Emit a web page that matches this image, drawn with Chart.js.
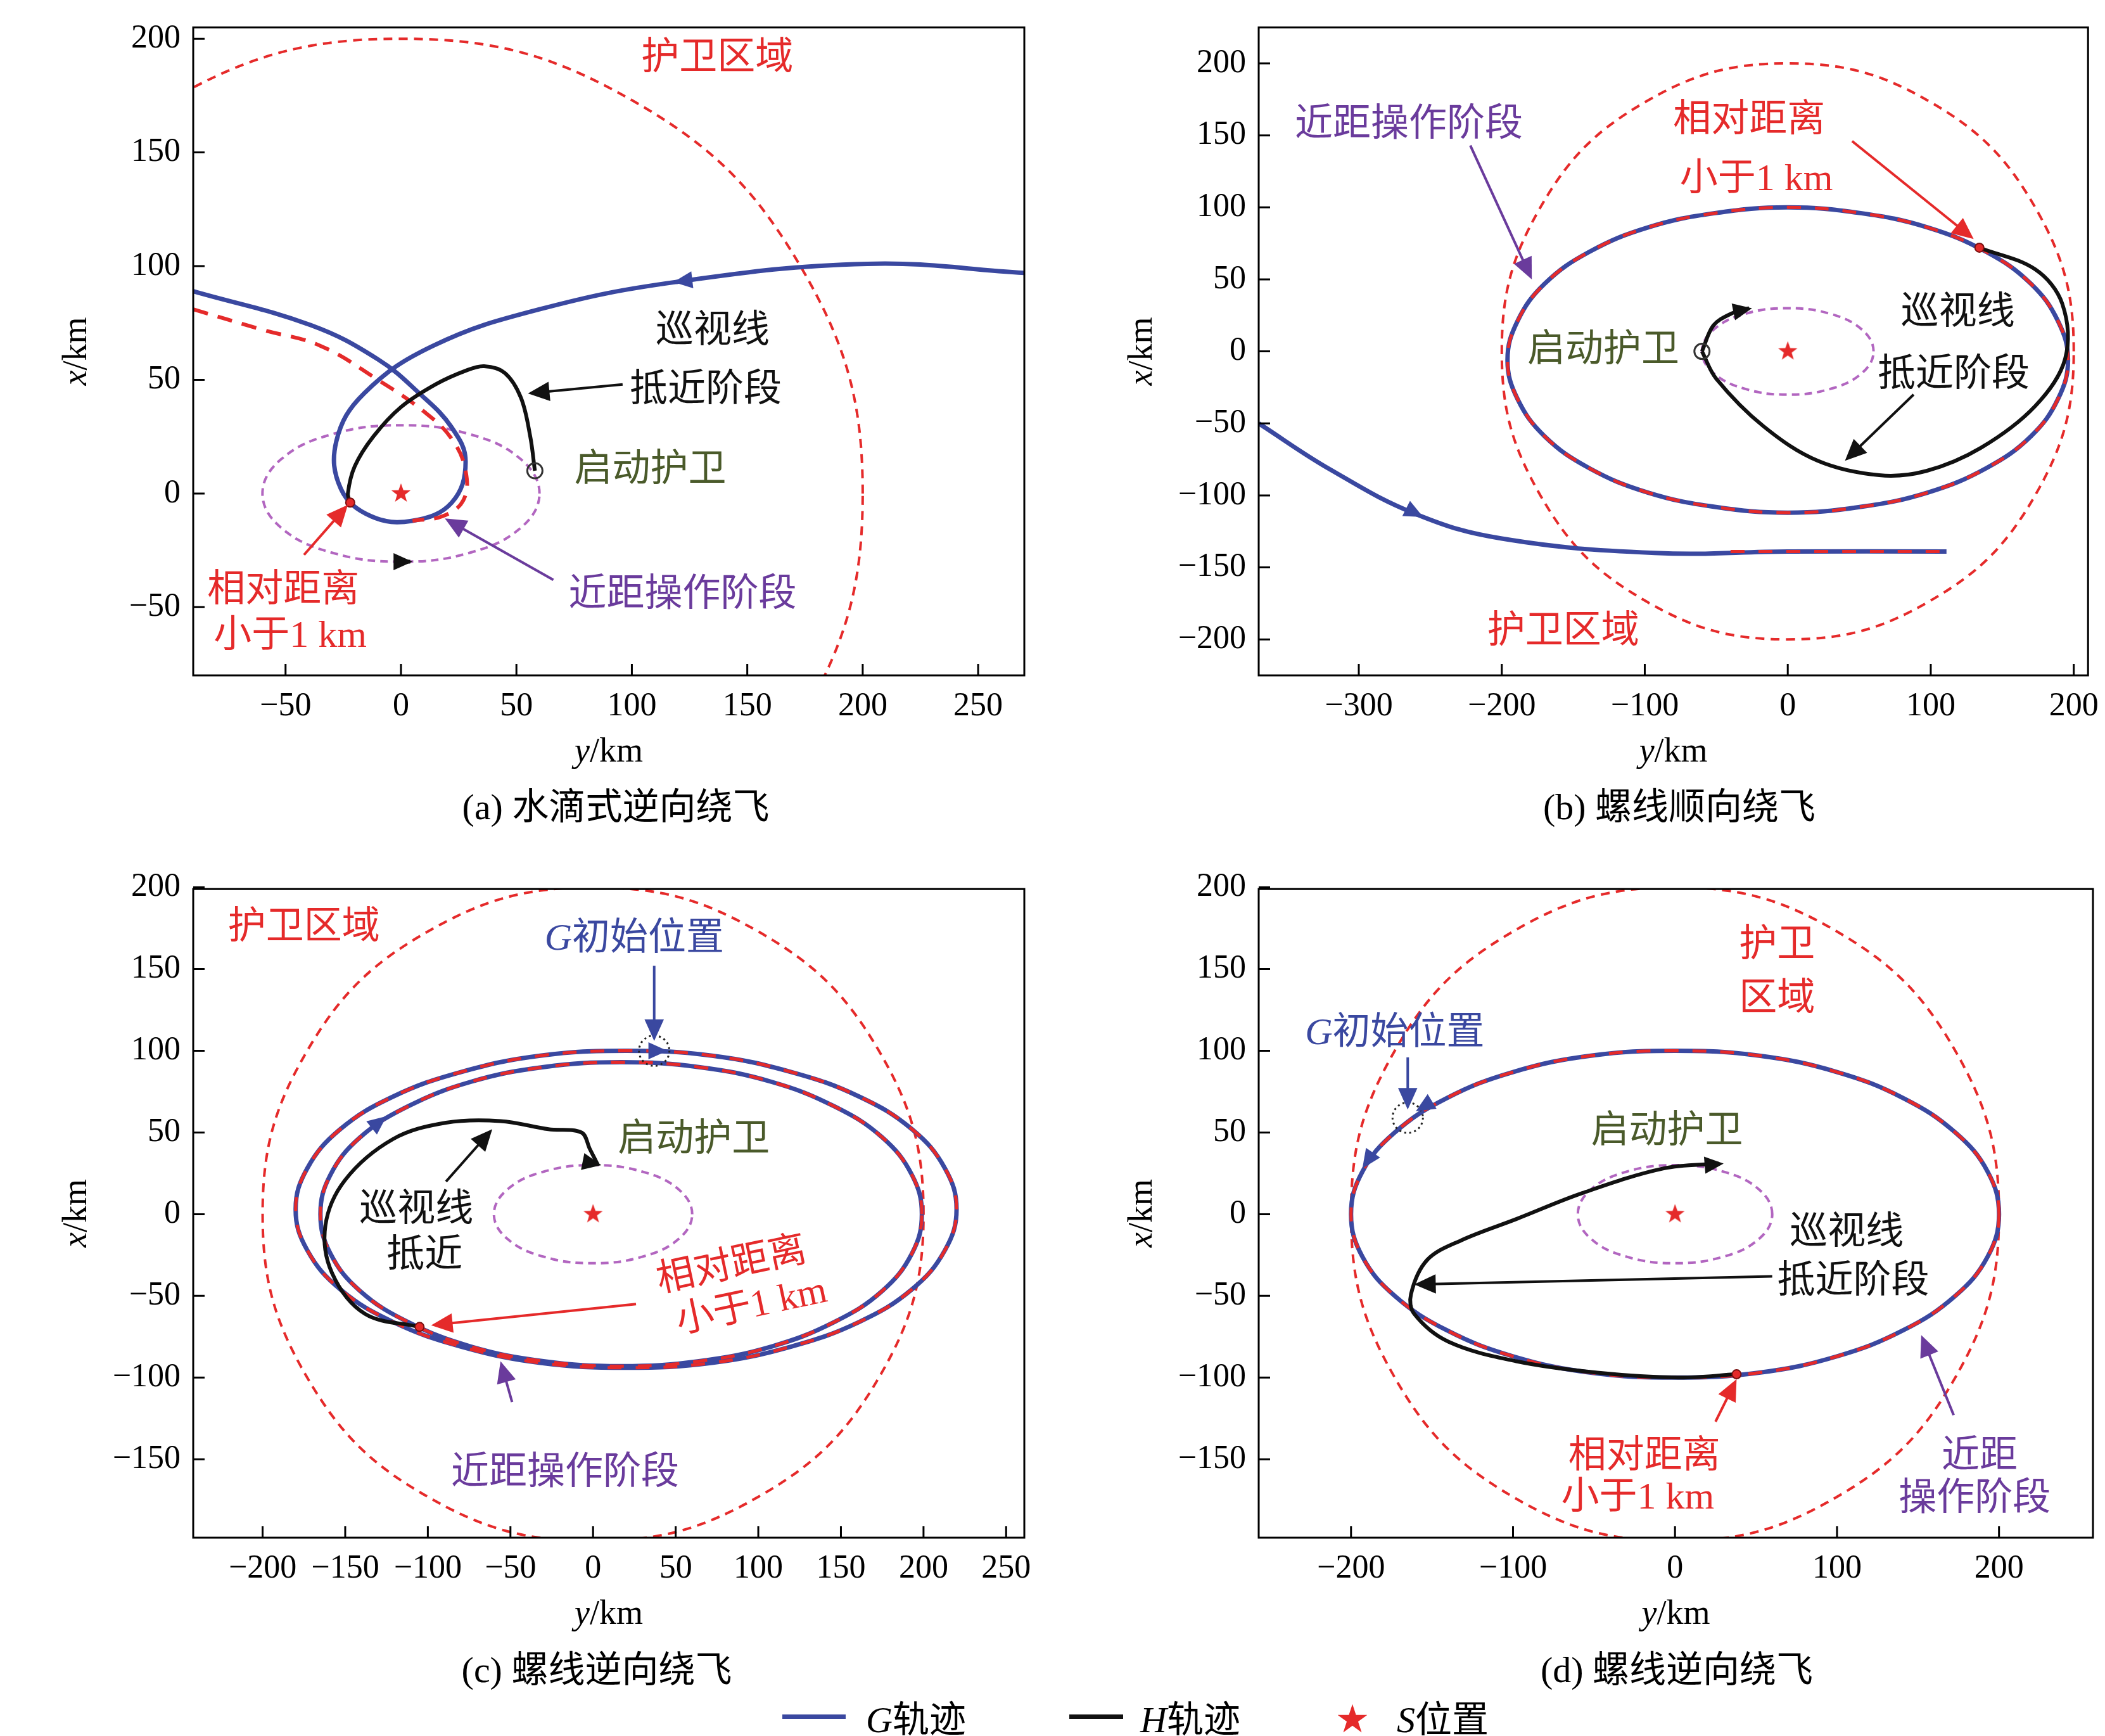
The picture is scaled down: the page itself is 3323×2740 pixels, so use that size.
<!DOCTYPE html>
<html><head><meta charset="utf-8">
<script src="https://cdn.jsdelivr.net/npm/chart.js@4.4.0/dist/chart.umd.min.js"></script>
<style>
body{margin:0;width:3323px;height:2740px;background:#fff;position:relative;overflow:hidden;font-family:"Liberation Serif","Noto Sans CJK SC",serif;}
.pn{position:absolute;}
.cap{position:absolute;font-size:58px;transform:translate(-50%,-50%);white-space:nowrap;}
.lg{position:absolute;font-size:58px;top:2709px;transform:translateY(-50%);white-space:nowrap;}
.ln{position:absolute;top:2706px;height:7px;}
i{font-family:"Liberation Serif";}
</style></head><body>
<div class="pn" style="left:0;top:0;width:1660px;height:1240px"><canvas id="ca"></canvas></div>
<div class="pn" style="left:1660px;top:0;width:1663px;height:1240px"><canvas id="cb"></canvas></div>
<div class="pn" style="left:0;top:1360px;width:1660px;height:1240px"><canvas id="cc"></canvas></div>
<div class="pn" style="left:1660px;top:1360px;width:1663px;height:1240px"><canvas id="cd"></canvas></div>
<div class="cap" style="left:972px;top:1268px">(a) 水滴式逆向绕飞</div>
<div class="cap" style="left:2651px;top:1268px">(b) 螺线顺向绕飞</div>
<div class="cap" style="left:942px;top:2630px">(c) 螺线逆向绕飞</div>
<div class="cap" style="left:2647px;top:2630px">(d) 螺线逆向绕飞</div>
<div class="ln" style="left:1235px;width:100px;background:#3a48a0"></div>
<div class="lg" style="left:1367px"><i>G</i>轨迹</div>
<div class="ln" style="left:1688px;width:85px;background:#111"></div>
<div class="lg" style="left:1800px"><i>H</i>轨迹</div>
<div class="lg" style="left:2110px;color:#e52a2a;font-size:50px">★</div>
<div class="lg" style="left:2205px"><i>S</i>位置</div>
<script>
// shared shapes; closed loops repeat a point at each end
const guardCircle = [[173,-100],[200,0],[173,100],[100,173],[0,200],[-100,173],[-173,100],[-200,0],[-173,-100],[-100,-173],[0,-200],[100,-173],[173,-100],[200,0],[173,100]];
const innerEllipse = [[52,-15],[60,0],[52,15],[30,26],[0,30],[-30,26],[-52,15],[-60,0],[-52,-15],[-30,-26],[0,-30],[30,-26],[52,-15],[60,0],[52,15]];
const starPos = [[0,0]];

// panel a
const aXTicks = [-50,0,50,100,150,200,250];
const aYTicks = [-50,0,50,100,150,200];
const aBlue = [[270,97],[202,101],[119,93],[60,81],[14,65],[-16,44],[-28,23],[-26,2],[-13,-10],[5,-12],[22,-4],[28,14],[22,29],[8,44],[-10,59],[-39,74],[-90,89]];
const aRed = [[-90,81],[-60,72],[-35,65],[-10,50],[10,36],[22,24],[28,10],[27,-3],[18,-10],[5,-12]];
const aBlack = [[58,10],[56,25],[52,42],[45,53],[36,56],[28,54],[15,48],[0,38],[-12,25],[-20,12],[-23,0],[-22,-4]];
const aBlack2 = [[-3,-30],[4,-30]];
const aDot = [[-22,-4]];
const aStart = [[58,10]];

// panel b
const bXTicks = [-300,-200,-100,0,100,200];
const bYTicks = [-200,-150,-100,-50,0,50,100,150,200];
const bEllipse = [[189,-33],[196,-6],[189,21],[170,47],[139,69],[98,86],[51,96],[0,100],[-51,96],[-98,86],[-139,69],[-170,47],[-189,21],[-196,-6],[-189,-33],[-170,-59],[-139,-81],[-98,-98],[-51,-108],[0,-112],[51,-108],[98,-98],[139,-81],[170,-59],[189,-33],[196,-6],[189,21]];
const bTail = [[-370,-50],[-320,-82],[-260,-113],[-200,-130],[-93,-140],[0,-139],[111,-139]];
const bTailRed = [[-40,-139],[0,-139],[111,-139]];
const bBlack = [[134,72],[173,57],[192,33],[194,-5],[173,-38],[135,-67],[97,-83],[64,-86],[21,-76],[-17,-52],[-50,-19],[-60,0]];
const bBlack2 = [[-60,0],[-52,18],[-40,26],[-27,30]];
const bDot = [[134,72]];
const bStart = [[-60,0]];

// panel c
const cXTicks = [-200,-150,-100,-50,0,50,100,150,200,250];
const cYTicks = [-150,-100,-50,0,50,100,150,200];
const cOuter = [[213,-22],[220,3],[213,28],[193,52],[161,72],[120,87],[72,97],[20,100],[-32,97],[-80,87],[-121,72],[-153,52],[-173,28],[-180,3],[-173,-22],[-153,-46],[-121,-66],[-80,-81],[-32,-91],[20,-94],[72,-91],[120,-81],[161,-66],[193,-46],[213,-22],[220,3],[213,28]];
const cInner = [[193,-24],[199,0],[193,24],[175,47],[146,66],[108,81],[64,90],[17,93],[-30,90],[-74,81],[-112,66],[-141,47],[-159,24],[-165,0],[-159,-24],[-141,-47],[-112,-66],[-74,-81],[-30,-90],[17,-93],[64,-90],[108,-81],[146,-66],[175,-47],[193,-24],[199,0],[193,24]];
const cBlack = [[3,30],[-2,40],[-7,50],[-27,52],[-56,57],[-89,56],[-121,46],[-150,21],[-162,-7],[-158,-36],[-138,-61],[-105,-69]];
const cDot = [[-105,-69]];

// panel d
const dXTicks = [-200,-100,0,100,200];
const dYTicks = [-150,-100,-50,0,50,100,150,200];
const dEllipse = [[193,-26],[200,0],[193,26],[173,50],[141,71],[100,87],[52,97],[0,100],[-52,97],[-100,87],[-141,71],[-173,50],[-193,26],[-200,0],[-193,-26],[-173,-50],[-141,-71],[-100,-87],[-52,-97],[0,-100],[52,-97],[100,-87],[141,-71],[173,-50],[193,-26],[200,0],[193,26]];
const dBlack = [[27,31],[-7,28],[-57,13],[-98,-3],[-132,-16],[-153,-28],[-163,-49],[-161,-61],[-140,-78],[-98,-90],[-48,-97],[2,-100],[38,-98]];
const dDot = [[38,-98]];

const BLUE='#3a48a0', RED='#e52a2a', PURP='#b266c0', LPURP='#6a3b9c', OLIVE='#4a5a2a';
const CJK = '"Liberation Serif","Noto Sans CJK SC",serif';

const starImg = document.createElement('canvas');
starImg.width = 34; starImg.height = 34;
(() => {
    const g = starImg.getContext('2d');
    g.fillStyle = RED; g.beginPath();
    for (let i = 0; i < 10; i++) {
        const r = i % 2 ? 6.5 : 16, a = -Math.PI/2 + i*Math.PI/5;
        g.lineTo(17 + r*Math.cos(a), 17 + r*Math.sin(a));
    }
    g.fill();
})();

const xy = arr => arr.map(p => ({x:p[0], y:p[1]}));
const line = (arr, color, w, dash, tension) => ({data:xy(arr), showLine:true, borderColor:color, borderWidth:w,
    borderDash:dash||[], pointRadius:0, tension:tension===undefined?0.4:tension, fill:false});
// closed loop: the repeated end points only shape the spline, their segments are hidden
const loop = (arr, color, w, dash) => Object.assign(line(arr, color, w, dash), {
    segment:{borderColor: c => (c.p0DataIndex === 0 || c.p1DataIndex === arr.length-1) ? 'rgba(0,0,0,0)' : color}
});
const pts = (arr, style) => Object.assign({data:xy(arr), showLine:false}, style);

const anno = {
    id:'anno',
    afterDatasetsDraw(chart, args, o) {
        const ctx = chart.ctx, xs = chart.scales.x, ys = chart.scales.y, ca = chart.chartArea;
        const P = p => [xs.getPixelForValue(p[0]), ys.getPixelForValue(p[1])];
        const tri = (tip, from, c, s) => {
            const a = Math.atan2(tip[1]-from[1], tip[0]-from[0]);
            ctx.fillStyle = c; ctx.beginPath();
            ctx.moveTo(tip[0], tip[1]);
            ctx.lineTo(tip[0]-s*Math.cos(a)+s*0.45*Math.sin(a), tip[1]-s*Math.sin(a)-s*0.45*Math.cos(a));
            ctx.lineTo(tip[0]-s*Math.cos(a)-s*0.45*Math.sin(a), tip[1]-s*Math.sin(a)+s*0.45*Math.cos(a));
            ctx.closePath(); ctx.fill();
        };
        const rich = (parts, x0, y0, rot) => {
            ctx.save(); ctx.translate(x0, y0); ctx.rotate((rot||0)*Math.PI/180);
            ctx.textBaseline = 'middle'; ctx.textAlign = 'left';
            let w = 0;
            parts.forEach(q => { ctx.font = q[0]; w += ctx.measureText(q[1]).width; });
            let x = -w/2;
            parts.forEach(q => { ctx.font = q[0]; ctx.fillText(q[1], x, 0); x += ctx.measureText(q[1]).width; });
            ctx.restore();
        };
        ctx.save();
        (o.circles||[]).forEach(c => {
            const p = P(c);
            ctx.strokeStyle='#222'; ctx.lineWidth=3; ctx.setLineDash([3,5]);
            ctx.beginPath(); ctx.arc(p[0],p[1],24,0,Math.PI*2); ctx.stroke(); ctx.setLineDash([]);
        });
        (o.heads||[]).forEach(h => tri(P(h.at), P(h.from), h.c, 30));
        (o.arrows||[]).forEach(a => {
            const f = P(a.from), t = P(a.to);
            const ang = Math.atan2(t[1]-f[1], t[0]-f[0]);
            ctx.strokeStyle = a.c; ctx.lineWidth = 4;
            ctx.beginPath(); ctx.moveTo(f[0],f[1]); ctx.lineTo(t[0]-26*Math.cos(ang), t[1]-26*Math.sin(ang)); ctx.stroke();
            tri(t, f, a.c, 34);
        });
        (o.texts||[]).forEach(t => {
            const p = P([t.x, t.y]);
            ctx.fillStyle = t.c;
            const parts = t.it ? [['italic 60px "Liberation Serif"', t.s[0]], ['60px '+CJK, t.s.slice(1)]] : [['60px '+CJK, t.s]];
            rich(parts, p[0], p[1], t.rot);
        });
        // axis titles with italic variable
        ctx.fillStyle = '#000';
        rich([['italic 54px "Liberation Serif"','y'],['54px "Liberation Serif"','/km']], (ca.left+ca.right)/2, ca.bottom+122, 0);
        rich([['italic 54px "Liberation Serif"','x'],['54px "Liberation Serif"','/km']], ca.left-183, (ca.top+ca.bottom)/2, -90);
        // frame + inward ticks
        ctx.strokeStyle = '#000'; ctx.lineWidth = 3;
        ctx.strokeRect(ca.left, ca.top, ca.right-ca.left, ca.bottom-ca.top);
        ctx.beginPath();
        xs.ticks.forEach(t => { const x = xs.getPixelForValue(t.value); ctx.moveTo(x, ca.bottom); ctx.lineTo(x, ca.bottom-18); });
        ys.ticks.forEach(t => { const y = ys.getPixelForValue(t.value); ctx.moveTo(ca.left, y); ctx.lineTo(ca.left+18, y); });
        ctx.stroke();
        ctx.restore();
    }
};

const fmt = v => (v < 0 ? '\u2212' + (-v) : '' + v);
const tickFont = {family:'"Liberation Serif"', size:52};

function makeChart(id, cfg) {
    // first dataset in the list is drawn at the bottom
    const ds = cfg.datasets.map((d, i) => Object.assign(d, {order: cfg.datasets.length - i}));
    new Chart(document.getElementById(id), {
        type:'scatter',
        data:{datasets:ds},
        options:{
            responsive:true, maintainAspectRatio:false, animation:false,
            layout:{padding:cfg.pad},
            plugins:{legend:{display:false}, tooltip:{enabled:false}, anno:cfg.anno},
            scales:{
                x:{min:cfg.xr[0], max:cfg.xr[1], grid:{display:false}, border:{display:false},
                   afterBuildTicks:s => { s.ticks = cfg.xt.map(v => ({value:v})); },
                   afterFit:s => { s.height = cfg.xh; },
                   ticks:{font:tickFont, color:'#000', padding:10, maxRotation:0, autoSkip:false, callback:fmt}},
                y:{min:cfg.yr[0], max:cfg.yr[1], grid:{display:false}, border:{display:false},
                   afterBuildTicks:s => { s.ticks = cfg.yt.map(v => ({value:v})); },
                   afterFit:s => { s.width = cfg.yw; },
                   ticks:{font:tickFont, color:'#000', padding:12, autoSkip:false, callback:fmt}}
            }
        },
        plugins:[anno]
    });
}

const star = () => pts(starPos, {pointStyle:starImg, pointRadius:17});
const dot = arr => pts(arr, {pointRadius:7, pointBackgroundColor:RED, pointBorderColor:'#7a1010', pointBorderWidth:2});
const openC = arr => pts(arr, {pointRadius:12, pointBackgroundColor:'rgba(0,0,0,0)', pointBorderColor:'#333', pointBorderWidth:3});

makeChart('ca', {
    pad:{left:0, top:36, right:43, bottom:0}, xh:174, yw:305,
    xr:[-90,270], yr:[-80,205], xt:aXTicks, yt:aYTicks,
    datasets:[
        loop(guardCircle, RED, 4, [14,10]),
        loop(innerEllipse, PURP, 4, [12,8]),
        line(aBlue, BLUE, 7),
        line(aRed, RED, 6, [24,16]),
        line(aBlack, '#111', 6, [], 0.35),
        line(aBlack2, '#111', 6, [], 0),
        star(), dot(aDot), openC(aStart)
    ],
    anno:{
        heads:[{at:[118,93], from:[160,98], c:BLUE}, {at:[5,-30], from:[-5,-30], c:'#111'}],
        arrows:[{from:[96,48], to:[55,44], c:'#111'}, {from:[66,-38], to:[19,-11], c:LPURP}, {from:[-42,-27], to:[-23,-5], c:RED}],
        texts:[{x:137,y:191,s:'护卫区域',c:RED},{x:135,y:71,s:'巡视线',c:'#111'},{x:132,y:45,s:'抵近阶段',c:'#111'},
               {x:108,y:10,s:'启动护卫',c:OLIVE},{x:122,y:-45,s:'近距操作阶段',c:LPURP},
               {x:-51,y:-43,s:'相对距离',c:RED},{x:-48,y:-63,s:'小于1 km',c:RED}]
    }
});

makeChart('cb', {
    pad:{left:0, top:36, right:19, bottom:0}, xh:174, yw:327,
    xr:[-370,210], yr:[-225,225], xt:bXTicks, yt:bYTicks,
    datasets:[
        loop(guardCircle, RED, 4, [14,10]),
        loop(innerEllipse, PURP, 4, [12,8]),
        loop(bEllipse, BLUE, 7),
        line(bTail, BLUE, 7),
        loop(bEllipse, RED, 5, [22,22]),
        line(bTailRed, RED, 5, [22,22]),
        line(bBlack, '#111', 6, [], 0.35),
        line(bBlack2, '#111', 6, [], 0.35),
        star(), dot(bDot), openC(bStart)
    ],
    anno:{
        heads:[{at:[-255,-115], from:[-285,-100], c:BLUE}, {at:[-25,30], from:[-40,27], c:'#111'}],
        arrows:[{from:[-222,143], to:[-179,50], c:LPURP}, {from:[45,146], to:[130,78], c:RED}, {from:[88,-30], to:[40,-76], c:'#111'}],
        texts:[{x:-265,y:157,s:'近距操作阶段',c:LPURP},{x:-27,y:160,s:'相对距离',c:RED},{x:-22,y:119,s:'小于1 km',c:RED},
               {x:119,y:26,s:'巡视线',c:'#111'},{x:116,y:-17,s:'抵近阶段',c:'#111'},
               {x:-129,y:0,s:'启动护卫',c:OLIVE},{x:-157,y:-195,s:'护卫区域',c:RED}]
    }
});

makeChart('cc', {
    pad:{left:0, top:39, right:43, bottom:0}, xh:173, yw:305,
    xr:[-242,261], yr:[-198,199], xt:cXTicks, yt:cYTicks,
    datasets:[
        loop(guardCircle, RED, 4, [14,10]),
        loop(innerEllipse, PURP, 4, [12,8]),
        loop(cOuter, BLUE, 7),
        loop(cInner, BLUE, 7),
        loop(cOuter, RED, 5, [22,22]),
        loop(cInner, RED, 5, [22,22]),
        line(cBlack, '#111', 6, [], 0.35),
        star(), dot(cDot)
    ],
    anno:{
        circles:[[37,100]],
        heads:[{at:[45,100], from:[25,100], c:BLUE}, {at:[-125,60], from:[-140,48], c:BLUE}, {at:[5,30], from:[-5,32], c:'#111'}],
        arrows:[{from:[37,152], to:[37,106], c:BLUE}, {from:[-89,20], to:[-61,52], c:'#111'},
                {from:[26,-55], to:[-98,-68], c:RED}, {from:[-49,-115], to:[-56,-90], c:LPURP}],
        texts:[{x:-175,y:175,s:'护卫区域',c:RED},{x:25,y:168,s:'G初始位置',c:BLUE,it:true},{x:61,y:45,s:'启动护卫',c:OLIVE},
               {x:-107,y:2,s:'巡视线',c:'#111'},{x:-102,y:-26,s:'抵近',c:'#111'},
               {x:84,y:-32,s:'相对距离',c:RED,rot:-12},{x:96,y:-57,s:'小于1 km',c:RED,rot:-12},
               {x:-17,y:-159,s:'近距操作阶段',c:LPURP}]
    }
});

makeChart('cd', {
    pad:{left:0, top:39, right:19, bottom:0}, xh:173, yw:327,
    xr:[-257,258], yr:[-198,199], xt:dXTicks, yt:dYTicks,
    datasets:[
        loop(guardCircle, RED, 4, [14,10]),
        loop(innerEllipse, PURP, 4, [12,8]),
        loop(dEllipse, BLUE, 7),
        loop(dEllipse, RED, 5, [22,22]),
        line(dBlack, '#111', 6, [], 0.35),
        star(), dot(dDot)
    ],
    anno:{
        circles:[[-165,59]],
        heads:[{at:[-160,63], from:[-145,72], c:BLUE}, {at:[-193,28], from:[-182,44], c:BLUE}, {at:[30,31], from:[18,30], c:'#111'}],
        arrows:[{from:[-165,96], to:[-165,64], c:BLUE}, {from:[60,-38], to:[-161,-43], c:'#111'},
                {from:[25,-127], to:[38,-101], c:RED}, {from:[172,-123], to:[152,-74], c:LPURP}],
        texts:[{x:63,y:164,s:'护卫',c:RED},{x:63,y:131,s:'区域',c:RED},{x:-173,y:110,s:'G初始位置',c:BLUE,it:true},
               {x:-5,y:50,s:'启动护卫',c:OLIVE},{x:106,y:-12,s:'巡视线',c:'#111'},{x:110,y:-42,s:'抵近阶段',c:'#111'},
               {x:-19,y:-149,s:'相对距离',c:RED},{x:-23,y:-174,s:'小于1 km',c:RED},
               {x:188,y:-149,s:'近距',c:LPURP},{x:185,y:-175,s:'操作阶段',c:LPURP}]
    }
});
</script>
</body></html>
